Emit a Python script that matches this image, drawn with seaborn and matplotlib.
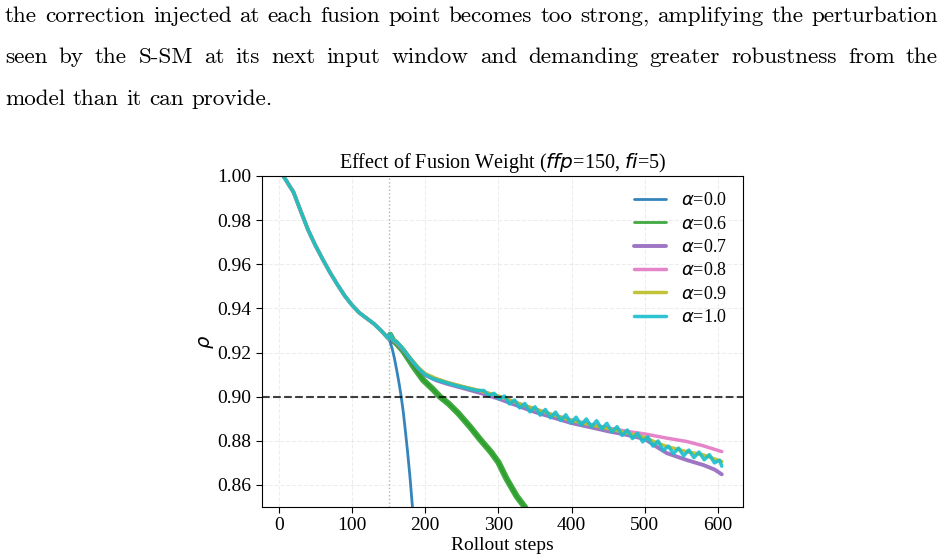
# import the libraries
import pandas as pd
import seaborn as sns
import matplotlib.pyplot as plt

# paragraph text above the figure
para_lines = [
    "the correction injected at each fusion point becomes too strong, amplifying the perturbation",
    "seen by the S-SM at its next input window and demanding greater robustness from the",
    "model than it can provide.",
]

# shared rollout before the first fusion point (ffp=150)
steps_base = [0, 5, 10, 15, 20, 30, 40, 50, 60, 70, 80, 90, 100, 110, 120, 130, 140, 150]
rho_base = [1.0030, 1.0005, 0.9980, 0.9953, 0.9927, 0.9840, 0.9755, 0.9685, 0.9622,
            0.9562, 0.9508, 0.9457, 0.9415, 0.9380, 0.9355, 0.9330, 0.9298, 0.9262]

# alpha = 0.0
steps_a00 = [152, 155, 158, 161, 164, 167, 170, 173, 176, 179, 182, 184]
rho_a00 = [0.9248, 0.9215, 0.9172, 0.9120, 0.9065, 0.9003, 0.8930, 0.8840, 0.8745,
           0.8640, 0.8520, 0.8440]

# alpha = 0.6
steps_a06 = [152, 156, 160, 170, 184, 197, 210, 220, 232, 245, 261, 275, 290, 300,
             311, 325, 336, 345]
rho_a06 = [0.9280, 0.9254, 0.9244, 0.9207, 0.9136, 0.9076, 0.9035, 0.9000, 0.8968,
           0.8925, 0.8864, 0.8806, 0.8748, 0.8702, 0.8628, 0.8548, 0.8500, 0.8450]

# alpha = 0.7
steps_a07 = [152, 156, 160, 170, 180, 190, 200, 215, 230, 250, 275, 300, 325, 350,
             375, 400, 425, 450, 475, 500, 515, 530, 557, 580, 595, 605]
rho_a07 = [0.9280, 0.9254, 0.9245, 0.9211, 0.9169, 0.9129, 0.9098, 0.9074, 0.9058,
           0.9040, 0.9017, 0.8991, 0.8960, 0.8930, 0.8905, 0.8880, 0.8862, 0.8843,
           0.8827, 0.8808, 0.8775, 0.8744, 0.8713, 0.8690, 0.8670, 0.8648]

# alpha = 0.8
steps_a08 = [152, 156, 160, 170, 180, 190, 200, 215, 230, 250, 275, 300, 325, 350,
             375, 400, 425, 450, 475, 500, 530, 557, 580, 605]
rho_a08 = [0.9281, 0.9256, 0.9248, 0.9214, 0.9172, 0.9132, 0.9102, 0.9080, 0.9064,
           0.9046, 0.9026, 0.9002, 0.8972, 0.8944, 0.8917, 0.8894, 0.8875, 0.8858,
           0.8843, 0.8831, 0.8812, 0.8797, 0.8777, 0.8751]

# alpha = 0.9
steps_a09 = [152, 156, 160, 170, 180, 190, 200, 215, 230, 250, 275, 300, 325, 350,
             375, 400, 425, 450, 475, 500, 515, 530, 557, 580, 605]
rho_a09 = [0.9282, 0.9257, 0.9249, 0.9215, 0.9174, 0.9134, 0.9104, 0.9082, 0.9065,
           0.9047, 0.9027, 0.9003, 0.8972, 0.8944, 0.8917, 0.8892, 0.8873, 0.8855,
           0.8836, 0.8815, 0.8793, 0.8774, 0.8751, 0.8736, 0.8706]

# alpha = 1.0 (crests and troughs of the oscillation)
steps_a10 = [152, 156, 160, 165, 170, 175, 180, 185, 190, 195, 200, 210, 220, 230,
             240, 250, 260, 270,
             280, 287, 294, 301, 308, 315, 322, 329, 336, 343, 350, 357, 364, 371,
             378, 385, 392, 399, 406, 413, 420, 427, 434, 441, 448, 455, 462, 469,
             476, 483, 490, 497, 504, 511, 518, 525, 532, 539, 546, 553, 560, 567,
             574, 581, 588, 595, 602, 605]
rho_a10 = [0.9284, 0.9256, 0.9250, 0.9234, 0.9214, 0.9193, 0.9171, 0.9150, 0.9131,
           0.9114, 0.9100, 0.9082, 0.9072, 0.9062, 0.9052, 0.9044, 0.9036, 0.9028,
           0.9028, 0.9005, 0.9015, 0.8989, 0.9003, 0.8967, 0.8985, 0.8949, 0.8969,
           0.8931, 0.8954, 0.8916, 0.8942, 0.8904, 0.8930, 0.8892, 0.8918, 0.8880,
           0.8907, 0.8871, 0.8899, 0.8863, 0.8891, 0.8854, 0.8879, 0.8840, 0.8864,
           0.8824, 0.8849, 0.8810, 0.8834, 0.8795, 0.8818, 0.8776, 0.8799, 0.8756,
           0.8776, 0.8742, 0.8767, 0.8732, 0.8758, 0.8724, 0.8749, 0.8714, 0.8737,
           0.8700, 0.8712, 0.8685]

alpha_labels = ["0.0", "0.6", "0.7", "0.8", "0.9", "1.0"]
series_steps = [steps_a00, steps_a06, steps_a07, steps_a08, steps_a09, steps_a10]
series_rho = [rho_a00, rho_a06, rho_a07, rho_a08, rho_a09, rho_a10]
colors = ["#1f77b4", "#2ca02c", "#9467bd", "#e377c2", "#bcbd22", "#17becf"]
widths = [2, 2, 2.8, 2.5, 2.5, 2.5]

# style and fonts
sns.set_style("ticks")
plt.rcParams["font.family"] = ["Liberation Serif", "DejaVu Serif"]
plt.rcParams["mathtext.fontset"] = "dejavusans"
for key in ["text.color", "axes.labelcolor", "xtick.color", "ytick.color"]:
    plt.rcParams[key] = "black"

W, H = 943, 560
fig = plt.figure(figsize=(W / 100, H / 100), dpi=100)
renderer = fig.canvas.get_renderer()

# paragraph: measure the first line to pick a size, then justify
x_left, x_right = 5, 938
probe = fig.text(0, 0, para_lines[0], fontsize=20, family="cmr10")
natural = probe.get_window_extent(renderer).width
probe.remove()
para_size = 20 * (x_right - x_left) / natural
baselines = [22, 63, 105]

for line, y_px, justify in zip(para_lines, baselines, [True, True, False]):
    words = line.split(" ")
    objs = [fig.text(0, 1 - y_px / H, w, fontsize=para_size, family="cmr10",
                     va="baseline", color="black") for w in words]
    wds = [o.get_window_extent(renderer).width for o in objs]
    if justify:
        gap = (x_right - x_left - sum(wds)) / (len(words) - 1)
    else:
        gap = para_size * 100 / 72 * 0.333
    x = x_left
    for o, w in zip(objs, wds):
        o.set_x(x / W)
        x += w + gap

# the chart
ax = fig.add_axes([262 / W, 1 - 507 / H, (743 - 262) / W, (507 - 176) / H])

for lab, st, rh, c, lw in zip(alpha_labels, series_steps, series_rho, colors, widths):
    df = pd.DataFrame({"step": steps_base + st, "rho": rho_base + rh})
    sns.lineplot(data=df, x="step", y="rho", color=c, linewidth=lw, alpha=0.9,
                 label=r"$\alpha$=" + lab, estimator=None, ax=ax)

# the alpha=0.6 run zig-zags after fusion, which reads as a thick band
sns.lineplot(x=steps_a06, y=rho_a06, color=colors[1], linewidth=4.5, alpha=0.9,
             legend=False, estimator=None, ax=ax, zorder=1.9)

ax.axvline(150, color="gray", linestyle=":", linewidth=1, alpha=0.6)
ax.axhline(0.90, color="black", linestyle="--", linewidth=1.5, alpha=0.75)

ax.set_xlim(-23, 634)
ax.set_ylim(0.85, 1.00)
ax.set_xticks([0, 100, 200, 300, 400, 500, 600])
ax.set_yticks([0.86, 0.88, 0.90, 0.92, 0.94, 0.96, 0.98, 1.00])
ax.set_yticklabels(["%.2f" % v for v in ax.get_yticks()])
ax.tick_params(labelsize=14, length=4, color="black")
for s in ax.spines.values():
    s.set_color("black")

ax.grid(True, linestyle="--", color="#cccccc", alpha=0.35, linewidth=0.8)

ax.set_title(r"Effect of Fusion Weight ($ffp$=150, $fi$=5)", fontsize=14.5)
ax.set_xlabel("Rollout steps", fontsize=14, labelpad=1.5)
ax.set_ylabel(r"$\rho$", fontsize=14, labelpad=1)

ax.legend(loc="upper right", frameon=False, fontsize=13, handlelength=1.8,
          labelspacing=0.35, borderaxespad=0.5)

fig.savefig("out.png", dpi=100)
